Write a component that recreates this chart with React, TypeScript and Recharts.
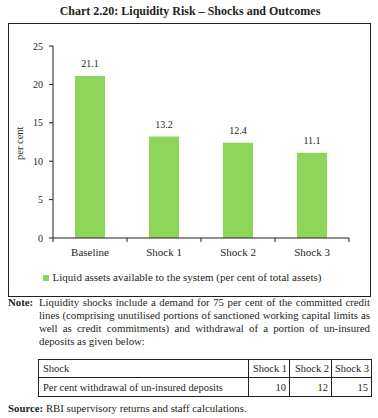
import React from 'react'
import { BarChart, Bar, XAxis, YAxis, Legend, LabelList } from 'recharts'

// ── Data ─────────────────────────────────────────────────────────────────────

const categories = ['Baseline', 'Shock 1', 'Shock 2', 'Shock 3']
const liquidAssets = [21.1, 13.2, 12.4, 11.1]
const yTicks = [0, 5, 10, 15, 20, 25]
const shockHeads = ['Shock 1', 'Shock 2', 'Shock 3']
const withdrawalPct = [10, 12, 15]

const SERIES_NAME = 'Liquid assets available to the system (per cent of total assets)'
const GREEN = '#8DD65A'
const INK = '#231f20'
const FONT = '"Liberation Serif", "DejaVu Serif", serif'
const NOTE_SIZE = 10.8

// bars sit at the middle of each band on a numeric axis, so the tick marks can go on the band edges
const chartData = categories.map((name, i) => ({ pos: i + 0.5, name, value: liquidAssets[i] }))
const xTicks = categories.flatMap((_, i) => [i, i + 0.5]).concat(categories.length)

const TICK_SIZE = 4
const TICK_MARGIN = 4

function BandTick(props: any) {
  const { x, y, payload } = props
  const v = payload.value as number
  if (v % 1 === 0) {
    return <line x1={x} x2={x} y1={y - TICK_SIZE - TICK_MARGIN} y2={y - TICK_MARGIN} stroke={INK} strokeWidth={1} />
  }
  return (
    <text x={x} y={y} dy={10} textAnchor="middle" fontSize={11} fill={INK} fontFamily={FONT}>
      {categories[Math.floor(v)]}
    </text>
  )
}

const cell = { border: `1px solid ${INK}`, padding: '0 3px', whiteSpace: 'nowrap' as const }

export default function App() {
  return (
    <div style={{ position: 'absolute', left: 0, top: 0, width: 378, height: 418, background: '#fff', fontFamily: FONT, color: INK }}>
      <div style={{ position: 'absolute', left: 0, top: 4, width: 380, textAlign: 'center', fontSize: 12, fontWeight: 'bold' }}>
        Chart 2.20: Liquidity Risk – Shocks and Outcomes
      </div>

      <div style={{ position: 'absolute', left: 8, top: 23, width: 361, height: 272, border: `1px solid ${INK}` }}>
        <BarChart width={361} height={272} data={chartData} margin={{ top: 22, right: 21, bottom: 13, left: 0 }}>
          <XAxis
            dataKey="pos"
            type="number"
            domain={[0, categories.length]}
            ticks={xTicks}
            interval={0}
            tick={<BandTick />}
            tickLine={false}
            tickSize={TICK_SIZE}
            tickMargin={TICK_MARGIN}
            height={33}
            stroke={INK}
          />
          <YAxis
            domain={[0, 25]}
            ticks={yTicks}
            width={44}
            tickSize={4}
            tickMargin={6}
            tick={{ fontSize: 10, fill: INK, fontFamily: FONT }}
            stroke={INK}
            label={{ value: 'per cent', angle: -90, position: 'insideLeft', offset: 10, dy: 18, fontSize: 10.5, fill: INK, fontFamily: FONT }}
          />
          <Legend
            verticalAlign="bottom"
            iconType="square"
            iconSize={6}
            wrapperStyle={{ fontSize: 11, fontFamily: FONT, color: INK, paddingLeft: 8 }}
            formatter={(v) => <span style={{ color: INK }}>{v}</span>}
          />
          <Bar dataKey="value" name={SERIES_NAME} fill={GREEN} barSize={30} isAnimationActive={false}>
            <LabelList dataKey="value" position="top" offset={9} fontSize={10} fill={INK} fontFamily={FONT} formatter={(v: any) => Number(v).toFixed(1)} />
          </Bar>
        </BarChart>
      </div>

      <div style={{ position: 'absolute', left: 8, top: 296, width: 362, fontSize: NOTE_SIZE, lineHeight: '13px' }}>
        <span style={{ position: 'absolute', left: 0, top: 0, fontWeight: 'bold' }}>Note:</span>
        <div style={{ marginLeft: 31, textAlign: 'justify' }}>
          Liquidity shocks include a demand for 75 per cent of the committed credit lines (comprising unutilised portions of sanctioned working capital limits as well as credit commitments) and withdrawal of a portion of un-insured deposits as given below:
        </div>
      </div>

      <table
        style={{
          position: 'absolute', left: 38, top: 359, width: 333, borderCollapse: 'collapse', tableLayout: 'fixed',
          fontSize: 10.5, fontFamily: FONT, color: INK, lineHeight: '13px',
        }}
      >
        <colgroup>
          <col style={{ width: 210 }} />
          <col style={{ width: 41 }} />
          <col style={{ width: 42 }} />
          <col style={{ width: 40 }} />
        </colgroup>
        <tbody>
          <tr style={{ height: 18 }}>
            <td style={{ ...cell, paddingLeft: 4 }}>Shock</td>
            {shockHeads.map(h => (
              <td key={h} style={{ ...cell, padding: '0 2px', textAlign: 'right' }}>{h}</td>
            ))}
          </tr>
          <tr style={{ height: 19 }}>
            <td style={{ ...cell, paddingLeft: 4 }}>Per cent withdrawal of un-insured deposits</td>
            {withdrawalPct.map((v, i) => (
              <td key={i} style={{ ...cell, textAlign: 'right' }}>{v}</td>
            ))}
          </tr>
        </tbody>
      </table>

      <div style={{ position: 'absolute', left: 8, top: 402, fontSize: NOTE_SIZE }}>
        <b>Source:</b> RBI supervisory returns and staff calculations.
      </div>
    </div>
  )
}
